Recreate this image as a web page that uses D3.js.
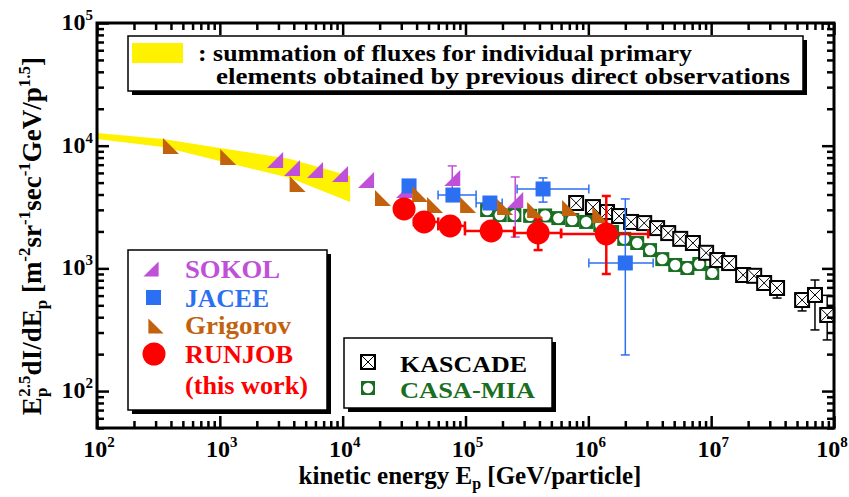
<!DOCTYPE html>
<html>
<head>
<meta charset="utf-8">
<script src="https://cdn.jsdelivr.net/npm/d3@7"></script>
<style>
body { margin: 0; background: #fff; }
text { font-family: "Liberation Serif", "Times New Roman", serif; font-weight: bold; }
</style>
</head>
<body>
<svg width="849" height="497"></svg>
<script>
// band: summation of direct observations
const bandE = [100, 345, 1000, 3730, 11500]
const bandHigh = [12700, 11360, 9580, 7800, 5670]
const bandLow = [11360, 9750, 7500, 5460, 3480]

const sokolE = [2820, 3870, 5960, 9520, 15500, 31600, 78000, 254000]
const sokolF = [7640, 6580, 6340, 5880, 5250, 4350, 5460, 3610]
const sokolFerr = [null, null, null, null, null, null, [4400, 6840], [1800, 5560]]

const jaceeE = [34700, 79000, 158000, 428000, 2000000]
const jaceeF = [4700, 3960, 3410, 4440, 1107]
const jaceeEerr = [null, [59800, 122000], [122000, 199000], [263000, 1010000], [1010000, 3370000]]
const jaceeFerr = [null, null, [3200, 3650], [3470, 5460], [197, 3680]]

const grigE = [400, 1170, 4300, 21300, 42700, 56500, 105000, 210000, 369000, 710000, 1250000]
const grigF = [9950, 8090, 4870, 3750, 4040, 3290, 3290, 3160, 2990, 3100, 2720]

const runjobE = [31600, 46000, 75000, 162000, 390000, 1400000]
const runjobF = [3050, 2390, 2220, 2020, 1945, 1910]
const runjobEerr = [null, [38000, 60000], [60000, 99000], [99000, 249000], [249000, 600000], [600000, 3070000]]
const runjobFerr = [[2800, 3300], null, null, null, [1410, 2500], [900, 3890]]

const kascadeE = [796000, 1090000, 1420000, 1780000, 2230000, 2850000, 3630000, 4470000, 5600000, 7100000,
  9100000, 11200000, 14000000, 18200000, 22400000, 27000000, 34400000, 55000000, 70000000, 88000000]
const kascadeF = [3410, 3160, 2880, 2670, 2390, 2340, 2130, 1940, 1740, 1610,
  1340, 1170, 1105, 883, 870, 760, 692, 552, 607, 417]
const kascadeFerr = [null, null, null, null, null, null, null, null, null, null,
  null, null, null, null, null, null, [573, 740], [450, 631], [315, 804], [261, 603]]

const casaE = [150000, 190000, 250000, 336000, 445000, 570000, 740000, 960000, 1250000, 1560000,
  1960000, 2500000, 3180000, 4000000, 5100000, 6400000, 8000000, 10200000]
const casaF = [2990, 2720, 2720, 2680, 2700, 2570, 2480, 2390, 2260, 1980,
  1740, 1610, 1410, 1190, 1066, 1007, 1086, 918]

const xDecades = [2, 3, 4, 5, 6, 7, 8]
const yDecades = [2, 3, 4, 5]

const colors = { sokol: '#c050d8', jacee: '#2b6ff2', grig: '#c3620e', runjob: '#ff0000', casa: '#1a6e22', kascade: '#000000' }

const svg = d3.select('svg')
const plotL = 97, plotR = 834, plotT = 23, plotB = 428

const x = d3.scaleLog().domain([1e2, 1e8]).range([plotL, plotR])
const y = d3.scaleLog().domain([50, 1e5]).range([plotB, plotT])

// minor / major tick values
const xMinor = [], yMinor = []
for (let d = 2; d < 8; d++) for (let m = 2; m <= 9; m++) xMinor.push(m * Math.pow(10, d))
for (let d = 1; d < 5; d++) for (let m = 2; m <= 9; m++) { const v = m * Math.pow(10, d); if (v >= 50) yMinor.push(v) }
const xMajor = xDecades.map(d => Math.pow(10, d))
const yMajor = yDecades.map(d => Math.pow(10, d))

const drawAxis = (axis, ticks, size, transform) => {
  const g = svg.append('g')
    .attr('transform', transform)
    .call(axis.tickValues(ticks).tickSize(-size).tickFormat(''))
  g.select('.domain').remove()
  g.selectAll('line').attr('stroke', '#000').attr('stroke-width', 2.5)
}

// band
const band = d3.area()
  .x((d, i) => x(bandE[i]))
  .y0((d, i) => y(bandLow[i]))
  .y1((d, i) => y(bandHigh[i]))
svg.append('path').datum(bandE).attr('d', band).attr('fill', '#fff200')

const errBars = (E, F, eErr, fErr, color, lw) => {
  const g = svg.append('g').attr('stroke', color).attr('stroke-width', lw).attr('fill', 'none')
  E.forEach((e, i) => {
    if (eErr && eErr[i]) {
      const [lo, hi] = eErr[i]
      g.append('line').attr('x1', x(lo)).attr('x2', x(hi)).attr('y1', y(F[i])).attr('y2', y(F[i]))
      ;[lo, hi].forEach(v => g.append('line').attr('x1', x(v)).attr('x2', x(v)).attr('y1', y(F[i]) - 4.5).attr('y2', y(F[i]) + 4.5))
    }
    if (fErr && fErr[i]) {
      const [lo, hi] = fErr[i]
      g.append('line').attr('x1', x(e)).attr('x2', x(e)).attr('y1', y(lo)).attr('y2', y(hi))
      ;[lo, hi].forEach(v => g.append('line').attr('x1', x(e) - 4.5).attr('x2', x(e) + 4.5).attr('y1', y(v)).attr('y2', y(v)))
    }
  })
}

const triUp = 'M-8,8L8,8L8,-8Z'     // SOKOL
const triDown = 'M-8,-8L-8,8L8,8Z'  // Grigorov

const casaMark = (g, cx, cy) => {
  g.append('rect').attr('x', cx - 7).attr('y', cy - 7).attr('width', 14).attr('height', 14).attr('fill', colors.casa)
  g.append('circle').attr('cx', cx).attr('cy', cy).attr('r', 5.2).attr('fill', '#fff')
}
const kascadeMark = (g, cx, cy) => {
  g.append('rect').attr('x', cx - 7).attr('y', cy - 7).attr('width', 14).attr('height', 14)
    .attr('fill', '#fff').attr('stroke', '#000').attr('stroke-width', 2)
  g.append('path').attr('d', `M${cx - 6},${cy - 6}L${cx + 6},${cy + 6}M${cx + 6},${cy - 6}L${cx - 6},${cy + 6}`)
    .attr('stroke', '#000').attr('stroke-width', 1)
}

// CASA-MIA
const gCasa = svg.append('g')
casaE.forEach((e, i) => casaMark(gCasa, x(e), y(casaF[i])))

// KASCADE
errBars(kascadeE, kascadeF, null, kascadeFerr, '#000', 1.5)
const gKas = svg.append('g')
kascadeE.forEach((e, i) => kascadeMark(gKas, x(e), y(kascadeF[i])))

// SOKOL
errBars(sokolE, sokolF, null, sokolFerr, colors.sokol, 1.5)
svg.append('g').selectAll('path').data(sokolE).join('path')
  .attr('d', triUp).attr('fill', colors.sokol)
  .attr('transform', (d, i) => `translate(${x(d)},${y(sokolF[i])})`)

// JACEE
errBars(jaceeE, jaceeF, jaceeEerr, jaceeFerr, colors.jacee, 1.5)
svg.append('g').selectAll('rect').data(jaceeE).join('rect')
  .attr('x', d => x(d) - 7.5).attr('y', (d, i) => y(jaceeF[i]) - 7.5)
  .attr('width', 15).attr('height', 15).attr('fill', colors.jacee)

// Grigorov
svg.append('g').selectAll('path').data(grigE).join('path')
  .attr('d', triDown).attr('fill', colors.grig)
  .attr('transform', (d, i) => `translate(${x(d)},${y(grigF[i])})`)

// RUNJOB
errBars(runjobE, runjobF, runjobEerr, runjobFerr, colors.runjob, 2.5)
svg.append('g').selectAll('circle').data(runjobE).join('circle')
  .attr('cx', d => x(d)).attr('cy', (d, i) => y(runjobF[i])).attr('r', 11.5).attr('fill', colors.runjob)

// axes (ticks inward)
drawAxis(d3.axisBottom(x), xMinor, 7, `translate(0,${plotB})`)
drawAxis(d3.axisBottom(x), xMajor, 12, `translate(0,${plotB})`)
drawAxis(d3.axisTop(x), xMinor, 7, `translate(0,${plotT})`)
drawAxis(d3.axisTop(x), xMajor, 12, `translate(0,${plotT})`)
drawAxis(d3.axisLeft(y), yMinor, 7, `translate(${plotL},0)`)
drawAxis(d3.axisLeft(y), yMajor, 12, `translate(${plotL},0)`)
drawAxis(d3.axisRight(y), yMinor, 7, `translate(${plotR},0)`)
drawAxis(d3.axisRight(y), yMajor, 12, `translate(${plotR},0)`)
svg.append('rect').attr('x', plotL).attr('y', plotT).attr('width', plotR - plotL).attr('height', plotB - plotT)
  .attr('fill', 'none').attr('stroke', '#000').attr('stroke-width', 3)

// tick labels
xDecades.forEach(d => {
  const t = svg.append('text').attr('x', x(Math.pow(10, d)) + (d === 8 ? -2 : 2)).attr('y', 457)
    .attr('text-anchor', 'middle').attr('font-size', 24)
  t.append('tspan').text('10')
  t.append('tspan').attr('font-size', 15).attr('dy', -10).text(d)
})
yDecades.forEach(d => {
  const t = svg.append('text').attr('x', 93).attr('y', y(Math.pow(10, d)) + 7)
    .attr('text-anchor', 'end').attr('font-size', 24)
  t.append('tspan').text('10')
  t.append('tspan').attr('font-size', 15).attr('dy', -10).text(d)
})

// axis titles
const xt = svg.append('text').attr('x', 470).attr('y', 484).attr('text-anchor', 'middle').attr('font-size', 25)
xt.append('tspan').text('kinetic energy E')
xt.append('tspan').attr('font-size', 16).attr('dy', 5).text('p')
xt.append('tspan').attr('dy', -5).text(' [GeV/particle]')

const yt = svg.append('text').attr('transform', 'translate(41,236) rotate(-90)')
  .attr('text-anchor', 'middle').attr('font-size', 27)
yt.append('tspan').text('E')
yt.append('tspan').attr('font-size', 17).attr('dy', 6).text('p')
yt.append('tspan').attr('font-size', 17).attr('dy', -17).attr('dx', -9).text('2.5')
yt.append('tspan').attr('dy', 11).text('dI/dE')
yt.append('tspan').attr('font-size', 17).attr('dy', 6).text('p')
yt.append('tspan').attr('dy', -6).text(' [m')
yt.append('tspan').attr('font-size', 17).attr('dy', -11).text('-2')
yt.append('tspan').attr('dy', 11).text('sr')
yt.append('tspan').attr('font-size', 17).attr('dy', -11).text('-1')
yt.append('tspan').attr('dy', 11).text('sec')
yt.append('tspan').attr('font-size', 17).attr('dy', -11).text('-1')
yt.append('tspan').attr('dy', 11).text('GeV/p')
yt.append('tspan').attr('font-size', 17).attr('dy', -11).text('1.5')
yt.append('tspan').attr('dy', 11).text(']')

// legend boxes with drop shadow
const box = (bx, by, bw, bh) => {
  svg.append('rect').attr('x', bx + 4).attr('y', by + 4).attr('width', bw).attr('height', bh).attr('fill', '#000')
  svg.append('rect').attr('x', bx).attr('y', by).attr('width', bw).attr('height', bh)
    .attr('fill', '#fff').attr('stroke', '#000').attr('stroke-width', 1.5)
}

box(128, 36, 675, 55)
svg.append('rect').attr('x', 132).attr('y', 43).attr('width', 51).attr('height', 20).attr('fill', '#fff200')
svg.append('text').attr('x', 198).attr('y', 61).attr('font-size', 23)
  .attr('textLength', 494).attr('lengthAdjust', 'spacingAndGlyphs')
  .text(': summation of fluxes for individual primary')
svg.append('text').attr('x', 216).attr('y', 84).attr('font-size', 23)
  .attr('textLength', 574).attr('lengthAdjust', 'spacingAndGlyphs')
  .text('elements obtained by previous direct observations')

box(128, 250, 199, 160)
const lg = svg.append('g')
lg.append('path').attr('d', triUp).attr('fill', colors.sokol).attr('transform', 'translate(151,269) scale(0.95)')
lg.append('rect').attr('x', 146).attr('y', 290).attr('width', 15).attr('height', 15).attr('fill', colors.jacee)
lg.append('path').attr('d', triDown).attr('fill', colors.grig).attr('transform', 'translate(156,326) scale(0.95)')
lg.append('circle').attr('cx', 154).attr('cy', 354).attr('r', 11.5).attr('fill', colors.runjob)
const legText = [['SOKOL', colors.sokol, 278, 95], ['JACEE', colors.jacee, 307, 84], ['Grigorov', colors.grig, 334, 106],
  ['RUNJOB', colors.runjob, 363, 108], ['(this work)', colors.runjob, 394, 123]]
legText.forEach(([t, c, ty, w]) => lg.append('text').attr('x', 185).attr('y', ty).attr('font-size', 25)
  .attr('textLength', w).attr('lengthAdjust', 'spacingAndGlyphs').attr('fill', c).text(t))

box(344, 338, 208, 70)
const lg2 = svg.append('g')
kascadeMark(lg2, 368, 362)
casaMark(lg2, 368, 388)
lg2.append('text').attr('x', 400).attr('y', 372).attr('font-size', 23)
  .attr('textLength', 127).attr('lengthAdjust', 'spacingAndGlyphs').text('KASCADE')
lg2.append('text').attr('x', 400).attr('y', 398).attr('font-size', 23)
  .attr('textLength', 135).attr('lengthAdjust', 'spacingAndGlyphs').attr('fill', colors.casa).text('CASA-MIA')
</script>
</body>
</html>
